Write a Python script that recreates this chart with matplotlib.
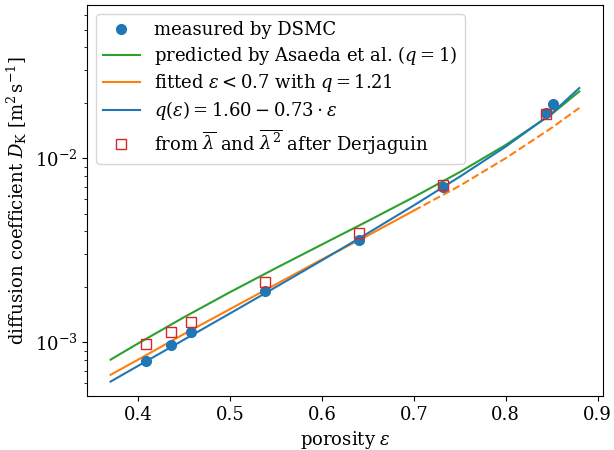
import matplotlib
matplotlib.use("Agg")
import matplotlib.pyplot as plt

plt.rcParams['font.family'] = ['DejaVu Serif']
plt.rcParams['mathtext.fontset'] = 'dejavuserif'
plt.rcParams['font.size'] = 13

# porosity of the measured samples
eps_meas = [0.408, 0.4355, 0.457, 0.5385, 0.640, 0.7315, 0.8439, 0.8518]
# DSMC results
d_dsmc = [7.91e-4, 9.71e-4, 1.13e-3, 1.90e-3, 3.61e-3, 6.94e-3, 1.76e-2, 1.96e-2]
# Derjaguin estimate (no value for the last sample)
eps_derj = [0.408, 0.4355, 0.457, 0.5385, 0.640, 0.7315, 0.8439]
d_derj = [9.75e-4, 1.137e-3, 1.294e-3, 2.12e-3, 3.94e-3, 7.13e-3, 1.73e-2]

eps_curve = [0.37, 0.40, 0.45, 0.50, 0.55, 0.60, 0.65, 0.70, 0.75, 0.80, 0.85, 0.88]
d_asaeda = [8.04e-4, 9.85e-4, 1.368e-3, 1.871e-3, 2.529e-3, 3.396e-3,
            4.555e-3, 6.145e-3, 8.404e-3, 1.180e-2, 1.736e-2, 2.304e-2]
d_qlin = [6.11e-4, 7.44e-4, 1.033e-3, 1.434e-3, 1.995e-3, 2.786e-3,
          3.913e-3, 5.54e-3, 7.933e-3, 1.156e-2, 1.750e-2, 2.404e-2]

eps_fit = [0.37, 0.40, 0.45, 0.50, 0.55, 0.60, 0.65, 0.70]
d_fit = [6.65e-4, 8.04e-4, 1.109e-3, 1.514e-3, 2.065e-3, 2.818e-3, 3.80e-3, 5.19e-3]
eps_extra = [0.70, 0.75, 0.80, 0.85, 0.88]
d_extra = [5.19e-3, 7.08e-3, 1.0e-2, 1.462e-2, 1.875e-2]

fig, ax = plt.subplots(figsize=(6.14, 4.5), dpi=100)
fig.subplots_adjust(left=0.142, right=0.9816, bottom=0.12, top=0.989)

ax.plot(eps_meas, d_dsmc, 'o', color='tab:blue', markersize=7, label='measured by DSMC', zorder=3)
ax.plot(eps_curve, d_asaeda, '-', color='tab:green', lw=1.5,
        label=r'predicted by Asaeda et al. ($q=1$)')
ax.plot(eps_fit, d_fit, '-', color='tab:orange', lw=1.5,
        label=r'fitted $\varepsilon<0.7$ with $q=1.21$')
ax.plot(eps_extra, d_extra, '--', color='tab:orange', lw=1.5)
ax.plot(eps_curve, d_qlin, '-', color='tab:blue', lw=1.5,
        label=r'$q(\varepsilon)=1.60-0.73\cdot\varepsilon$')
ax.plot(eps_derj, d_derj, 's', markerfacecolor='none', markeredgecolor='tab:red',
        markersize=7, label=r'from $\overline{\lambda}$ and $\overline{\lambda^2}$ after Derjaguin',
        zorder=4)

ax.set_yscale('log')
ax.set_ylim(5.1e-4, 6.8e-2)
ax.set_xlabel(r'porosity $\varepsilon$')
ax.set_ylabel(r'diffusion coefficient $D_\mathrm{K}$ [m$^2\,$s$^{-1}$]')
ax.legend(loc='upper left', labelspacing=0.28)

plt.savefig('out.png')
plt.close()
